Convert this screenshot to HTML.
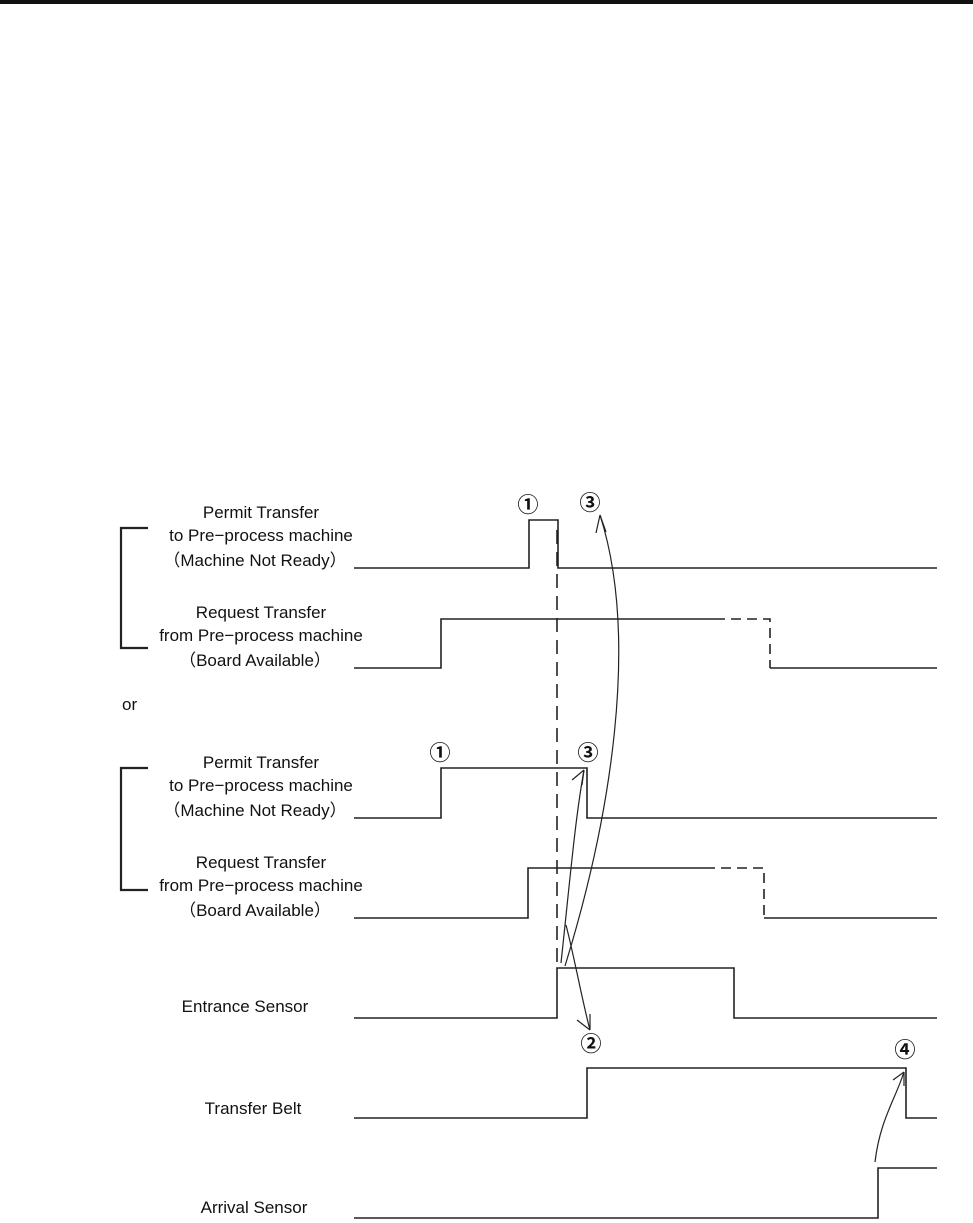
<!DOCTYPE html>
<html><head><meta charset="utf-8"><style>
html,body{margin:0;padding:0;background:#fff;}
svg{display:block}
text{font-family:"Liberation Sans","Noto Sans CJK JP",sans-serif;font-size:17px;fill:#111}
.c{font-size:21px;font-weight:bold}
</style></head><body>
<svg width="973" height="1223" viewBox="0 0 973 1223" xmlns="http://www.w3.org/2000/svg">
<rect x="0" y="0" width="973" height="4" fill="#111"/>
<g fill="none" stroke="#222" stroke-width="1.6">
<polyline points="354,568 529,568 529,520 558,520 558,568 937,568"/>
<polyline points="354,668 441,668 441,619 715,619"/>
<polyline points="715,619 770,619 770,668" stroke-dasharray="10,6"/>
<polyline points="770,668 937,668"/>
<polyline points="354,818 441,818 441,768 587,768 587,818 937,818"/>
<polyline points="354,918 528,918 528,868 705,868"/>
<polyline points="705,868 764,868 764,918" stroke-dasharray="10,6"/>
<polyline points="764,918 937,918"/>
<polyline points="354,1018 557,1018 557,968 734,968 734,1018 937,1018"/>
<polyline points="354,1118 587,1118 587,1068 906,1068 906,1118 937,1118"/>
<polyline points="354,1218 878,1218 878,1168 937,1168"/>
<line x1="557" y1="530" x2="557" y2="968" stroke-dasharray="14,8"/>
<polyline points="148,528 121,528 121,648 148,648" stroke-width="2.2"/>
<polyline points="148,768 121,768 121,890 148,890" stroke-width="2.2"/>
<g stroke-width="1.2">
<path d="M565,966 C610,820 640,640 600,515"/>
<path d="M600,515 L596,533 M600,515 L606,532"/>
<path d="M561,963 C570,880 575,820 584,770"/>
<path d="M584,770 L572,780 M584,770 L582,785"/>
<path d="M566,925 C575,960 582,1000 590,1030"/>
<path d="M590,1030 L577,1020 M590,1030 L590,1014"/>
<path d="M875,1162 C880,1120 895,1100 904,1072"/>
<path d="M904,1072 L893,1080 M904,1072 L904,1086"/>
</g>
</g>
<g text-anchor="middle">
<text x="261" y="518">Permit Transfer</text>
<text x="261" y="541">to Pre−process machine</text>
<text x="255" y="566">（Machine Not Ready）</text>
<text x="261" y="618">Request Transfer</text>
<text x="261" y="641">from Pre−process machine</text>
<text x="255" y="666">（Board Available）</text>
<text x="261" y="768">Permit Transfer</text>
<text x="261" y="791">to Pre−process machine</text>
<text x="255" y="816">（Machine Not Ready）</text>
<text x="261" y="868">Request Transfer</text>
<text x="261" y="891">from Pre−process machine</text>
<text x="255" y="916">（Board Available）</text>
<text x="245" y="1012">Entrance Sensor</text>
<text x="253" y="1114">Transfer Belt</text>
<text x="254" y="1213">Arrival Sensor</text>
<text class="c" x="528" y="512">①</text>
<text class="c" x="590" y="510">③</text>
<text class="c" x="440" y="760">①</text>
<text class="c" x="588" y="760">③</text>
<text class="c" x="591" y="1051">②</text>
<text class="c" x="905" y="1057">④</text>
</g>
<text x="122" y="710">or</text>
</svg>
</body></html>
